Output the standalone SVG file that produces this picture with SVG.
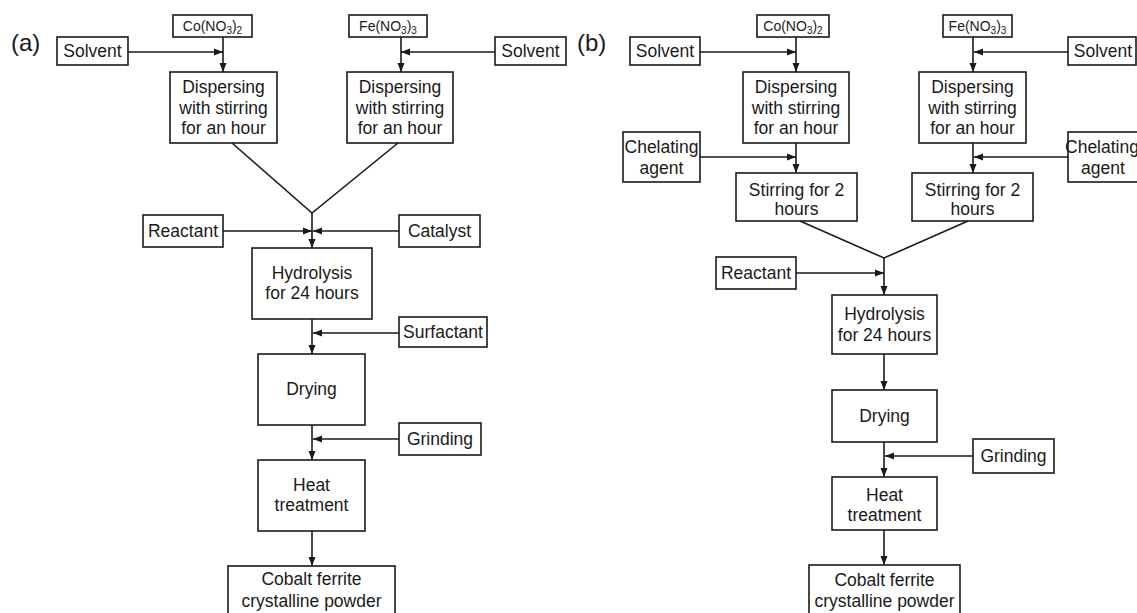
<svg xmlns="http://www.w3.org/2000/svg" width="1137" height="613" viewBox="0 0 1137 613">
<defs>
<style>
.b{fill:#fff;stroke:#1a1a1a;stroke-width:1.6}
.t{font-family:"Liberation Sans",Arial,sans-serif;font-size:17.5px;fill:#1a1a1a;text-anchor:middle}
.s{font-family:"Liberation Sans",Arial,sans-serif;font-size:14px;fill:#1a1a1a;text-anchor:middle}
.lbl{font-family:"Liberation Sans",Arial,sans-serif;font-size:24px;fill:#1a1a1a}
.c{stroke:#1a1a1a;stroke-width:1.6;fill:none}
.a{marker-end:url(#ah)}
</style>
<marker id="ah" markerUnits="userSpaceOnUse" markerWidth="10" markerHeight="8" refX="9" refY="4" orient="auto">
<path d="M0,0.5 L9,4 L0,7.5 z" fill="#1a1a1a"/>
</marker>
</defs>
<rect width="1137" height="613" fill="#fff"/>
<text class="lbl" x="11" y="51">(a)</text>
<text class="lbl" x="577" y="51">(b)</text>

<g id="connectors">
<!-- panel a -->
<line class="c a" x1="128" y1="52" x2="223" y2="52"/>
<line class="c a" x1="223" y1="37" x2="223" y2="72"/>
<line class="c a" x1="495" y1="52" x2="401" y2="52"/>
<line class="c a" x1="401" y1="37" x2="401" y2="72"/>
<polyline class="c" points="232,143 312,213 398,143"/>
<line class="c a" x1="312" y1="213" x2="312" y2="248"/>
<line class="c a" x1="223" y1="231" x2="312" y2="231"/>
<line class="c a" x1="399" y1="231" x2="313" y2="231"/>
<line class="c a" x1="312" y1="319" x2="312" y2="354"/>
<line class="c a" x1="399" y1="333" x2="313" y2="333"/>
<line class="c a" x1="312" y1="425" x2="312" y2="460"/>
<line class="c a" x1="399" y1="439" x2="313" y2="439"/>
<line class="c a" x1="312" y1="531" x2="312" y2="566"/>
<!-- panel b -->
<line class="c a" x1="700" y1="52" x2="796" y2="52"/>
<line class="c a" x1="796" y1="37" x2="796" y2="72"/>
<line class="c a" x1="700" y1="157" x2="796" y2="157"/>
<line class="c a" x1="796" y1="143" x2="796" y2="173"/>
<line class="c a" x1="1068" y1="52" x2="974" y2="52"/>
<line class="c a" x1="973" y1="37" x2="973" y2="72"/>
<line class="c a" x1="1068" y1="157" x2="974" y2="157"/>
<line class="c a" x1="973" y1="143" x2="973" y2="173"/>
<polyline class="c" points="800,221 884,258 968,221"/>
<line class="c a" x1="884" y1="258" x2="884" y2="295"/>
<line class="c a" x1="796" y1="273" x2="884" y2="273"/>
<line class="c a" x1="884" y1="354" x2="884" y2="390"/>
<line class="c a" x1="884" y1="442" x2="884" y2="477"/>
<line class="c a" x1="973" y1="456" x2="885" y2="456"/>
<line class="c a" x1="884" y1="530" x2="884" y2="565"/>
</g>

<!-- panel a nodes -->
<g id="a-solvent1"><rect class="b" x="57" y="37" width="71" height="28"/><text class="t" x="92.5" y="57">Solvent</text></g>
<g id="a-co"><rect class="b" x="173" y="15" width="79" height="22"/><text class="s" x="212.5" y="31">Co(NO<tspan font-size="10" dy="3">3</tspan><tspan dy="-3">)</tspan><tspan font-size="10" dy="3">2</tspan></text></g>
<g id="a-fe"><rect class="b" x="349" y="15" width="78" height="22"/><text class="s" x="388" y="31">Fe(NO<tspan font-size="10" dy="3">3</tspan><tspan dy="-3">)</tspan><tspan font-size="10" dy="3">3</tspan></text></g>
<g id="a-solvent2"><rect class="b" x="495" y="37" width="71" height="28"/><text class="t" x="530.5" y="57">Solvent</text></g>
<g id="a-disp1"><rect class="b" x="170" y="72" width="107" height="71"/><text class="t" x="223.5" y="93">Dispersing</text><text class="t" x="223.5" y="114">with stirring</text><text class="t" x="223.5" y="134">for an hour</text></g>
<g id="a-disp2"><rect class="b" x="347" y="72" width="106" height="71"/><text class="t" x="400" y="93">Dispersing</text><text class="t" x="400" y="114">with stirring</text><text class="t" x="400" y="134">for an hour</text></g>
<g id="a-reactant"><rect class="b" x="143" y="215" width="80" height="32"/><text class="t" x="183" y="237">Reactant</text></g>
<g id="a-catalyst"><rect class="b" x="399" y="215" width="81" height="32"/><text class="t" x="439.5" y="237">Catalyst</text></g>
<g id="a-hydro"><rect class="b" x="252" y="248" width="120" height="71"/><text class="t" x="312" y="279">Hydrolysis</text><text class="t" x="312" y="299">for 24 hours</text></g>
<g id="a-surf"><rect class="b" x="399" y="317" width="88" height="30"/><text class="t" x="443" y="338">Surfactant</text></g>
<g id="a-drying"><rect class="b" x="258" y="354" width="107" height="71"/><text class="t" x="311.5" y="395">Drying</text></g>
<g id="a-grind"><rect class="b" x="399" y="423" width="82" height="32"/><text class="t" x="440" y="445">Grinding</text></g>
<g id="a-heat"><rect class="b" x="258" y="460" width="107" height="71"/><text class="t" x="311.5" y="491">Heat</text><text class="t" x="311.5" y="511">treatment</text></g>
<g id="a-cobalt"><rect class="b" x="228" y="566" width="167" height="56"/><text class="t" x="311.5" y="585">Cobalt ferrite</text><text class="t" x="311.5" y="607">crystalline powder</text></g>

<!-- panel b nodes -->
<g id="b-solvent1"><rect class="b" x="630" y="37" width="70" height="28"/><text class="t" x="665" y="57">Solvent</text></g>
<g id="b-co"><rect class="b" x="757" y="15" width="72" height="22"/><text class="s" x="793" y="31">Co(NO<tspan font-size="10" dy="3">3</tspan><tspan dy="-3">)</tspan><tspan font-size="10" dy="3">2</tspan></text></g>
<g id="b-disp1"><rect class="b" x="743" y="72" width="106" height="71"/><text class="t" x="796" y="93">Dispersing</text><text class="t" x="796" y="114">with stirring</text><text class="t" x="796" y="134">for an hour</text></g>
<g id="b-chel1"><rect class="b" x="623" y="132" width="77" height="50"/><text class="t" x="661.5" y="153">Chelating</text><text class="t" x="661.5" y="174">agent</text></g>
<g id="b-stir1"><rect class="b" x="736" y="173" width="121" height="48"/><text class="t" x="796.5" y="196">Stirring for 2</text><text class="t" x="796.5" y="215">hours</text></g>
<g id="b-fe"><rect class="b" x="943" y="15" width="69" height="22"/><text class="s" x="977.5" y="31">Fe(NO<tspan font-size="10" dy="3">3</tspan><tspan dy="-3">)</tspan><tspan font-size="10" dy="3">3</tspan></text></g>
<g id="b-solvent2"><rect class="b" x="1068" y="37" width="68" height="28"/><text class="t" x="1103" y="57">Solvent</text></g>
<g id="b-disp2"><rect class="b" x="919" y="72" width="107" height="71"/><text class="t" x="972.5" y="93">Dispersing</text><text class="t" x="972.5" y="114">with stirring</text><text class="t" x="972.5" y="134">for an hour</text></g>
<g id="b-chel2"><rect class="b" x="1068" y="132" width="75" height="50"/><text class="t" x="1102" y="153" font-size="15.5px">Chelating</text><text class="t" x="1103" y="174">agent</text></g>
<g id="b-stir2"><rect class="b" x="912" y="173" width="121" height="48"/><text class="t" x="972.5" y="196">Stirring for 2</text><text class="t" x="972.5" y="215">hours</text></g>
<g id="b-reactant"><rect class="b" x="716" y="257" width="80" height="32"/><text class="t" x="756" y="279">Reactant</text></g>
<g id="b-hydro"><rect class="b" x="832" y="295" width="105" height="59"/><text class="t" x="884.5" y="320">Hydrolysis</text><text class="t" x="884.5" y="341">for 24 hours</text></g>
<g id="b-drying"><rect class="b" x="832" y="390" width="105" height="52"/><text class="t" x="884.5" y="422">Drying</text></g>
<g id="b-grind"><rect class="b" x="973" y="439" width="81" height="34"/><text class="t" x="1013.5" y="462">Grinding</text></g>
<g id="b-heat"><rect class="b" x="832" y="477" width="105" height="53"/><text class="t" x="884.5" y="501">Heat</text><text class="t" x="884.5" y="521">treatment</text></g>
<g id="b-cobalt"><rect class="b" x="809" y="565" width="151" height="56"/><text class="t" x="884.5" y="586">Cobalt ferrite</text><text class="t" x="884.5" y="607">crystalline powder</text></g>
</svg>
